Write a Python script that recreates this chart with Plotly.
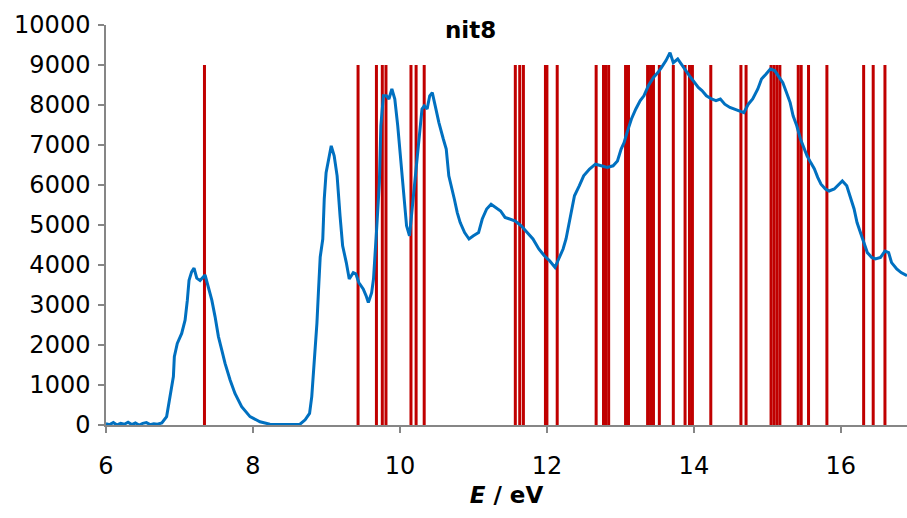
import plotly.graph_objects as go

# Measured spectrum (energy in eV, intensity in counts)
energy = [
    6.00, 6.05, 6.10, 6.15, 6.20, 6.25, 6.30, 6.35, 6.40, 6.45, 6.50, 6.55, 6.60, 6.65, 6.70, 6.76,
    6.825, 6.87, 6.917, 6.93, 6.97, 7.03, 7.076, 7.107, 7.13, 7.165, 7.198, 7.235, 7.28, 7.348,
    7.39, 7.44, 7.484, 7.53, 7.575, 7.62, 7.69, 7.755, 7.846, 7.96, 8.095, 8.23, 8.35, 8.45,
    8.55, 8.64, 8.71, 8.77, 8.80, 8.82, 8.845, 8.87, 8.89, 8.915, 8.95, 8.97, 8.995, 9.03,
    9.065, 9.105, 9.145, 9.185, 9.22, 9.27, 9.31, 9.365, 9.40, 9.44, 9.50, 9.54, 9.57, 9.615,
    9.64, 9.68, 9.72, 9.74, 9.775, 9.815, 9.85, 9.89, 9.93, 9.97, 10.01, 10.05, 10.09, 10.13,
    10.17, 10.21, 10.25, 10.30, 10.33, 10.37, 10.405, 10.44, 10.48, 10.53, 10.59, 10.63, 10.665,
    10.70, 10.74, 10.78, 10.82, 10.88, 10.94, 11.00, 11.07, 11.12, 11.18, 11.24, 11.30, 11.37,
    11.43, 11.49, 11.57, 11.65, 11.73, 11.81, 11.89, 11.965, 12.04, 12.11, 12.16, 12.22, 12.26,
    12.32, 12.375, 12.44, 12.50, 12.58, 12.66, 12.74, 12.82, 12.90, 12.96, 13.01, 13.05, 13.09,
    13.15, 13.21, 13.27, 13.32, 13.38, 13.45, 13.51, 13.56, 13.62, 13.675, 13.72, 13.78, 13.83,
    13.88, 13.94, 13.99, 14.06, 14.11, 14.17, 14.24, 14.30, 14.36, 14.42, 14.49, 14.55, 14.61,
    14.68, 14.74, 14.80, 14.87, 14.92, 14.98, 15.04, 15.10, 15.16, 15.21, 15.26, 15.31, 15.35,
    15.40, 15.45, 15.50, 15.54, 15.59, 15.64, 15.685, 15.73, 15.79, 15.84, 15.91, 15.97, 16.02,
    16.08, 16.125, 16.18, 16.22, 16.27, 16.31, 16.36, 16.42, 16.47, 16.54, 16.60, 16.65, 16.69,
    16.76, 16.82, 16.90,
]
intensity = [
    30, 10, 60, 0, 40, 20, 70, 10, 50, 0, 40, 60, 10, 30, 20, 50,
    210, 710, 1210, 1710, 2040, 2290, 2620, 3120, 3620, 3830, 3920, 3670, 3610, 3750,
    3460, 3120, 2710, 2210, 1880, 1540, 1120, 790, 460, 210, 80, 20, 10, 10,
    10, 20, 130, 290, 710, 1210, 1880, 2540, 3300, 4200, 4650, 5650, 6310, 6650,
    6980, 6730, 6230, 5230, 4480, 4060, 3650, 3810, 3780, 3560, 3400, 3230, 3060, 3310,
    3650, 4810, 6060, 7480, 8230, 8230, 8150, 8400, 8150, 7480, 6650, 5810, 4980, 4730,
    5480, 6230, 7150, 7900, 7980, 7900, 8230, 8310, 7980, 7560, 7150, 6900, 6230,
    5980, 5650, 5310, 5060, 4810, 4650, 4730, 4810, 5150, 5400, 5520, 5440, 5350,
    5190, 5150, 5100, 4980, 4810, 4650, 4400, 4230, 4100, 3940, 4150, 4400, 4650,
    5230, 5730, 5980, 6230, 6400, 6520, 6480, 6440, 6480, 6600, 6900, 7060, 7310,
    7650, 7900, 8110, 8230, 8480, 8690, 8810, 8940, 9110, 9310, 9060, 9150, 9020,
    8860, 8730, 8610, 8440, 8360, 8230, 8150, 8110, 8150, 8020, 7940, 7900, 7860,
    7810, 8020, 8150, 8400, 8650, 8770, 8900, 8860, 8690, 8560, 8310, 8060, 7730,
    7480, 7150, 6900, 6730, 6560, 6400, 6190, 6020, 5900, 5850, 5900, 6020, 6100,
    5980, 5730, 5400, 5060, 4810, 4560, 4310, 4190, 4150, 4190, 4350, 4310, 4060,
    3900, 3810, 3730,
]

# Calculated transition energies (eV), drawn as sticks up to a fixed height
transitions = [
    7.34, 9.43, 9.68, 9.76, 9.81, 10.15, 10.22, 10.33, 11.57, 11.63, 11.68, 11.98, 12.00,
    12.14, 12.67, 12.77, 12.80, 12.84, 13.07, 13.11, 13.37, 13.41, 13.45, 13.53, 13.72,
    13.88, 13.94, 13.98, 14.23, 14.64, 14.71, 15.05, 15.09, 15.13, 15.17, 15.42, 15.46,
    15.56, 15.81, 16.31, 16.44, 16.60,
]
stick_height = 9000

stick_x, stick_y = [], []
for e in transitions:
    stick_x += [e, e, None]
    stick_y += [0, stick_height, None]

fig = go.Figure()
fig.add_trace(go.Scatter(
    x=stick_x, y=stick_y, mode="lines",
    line=dict(color="#C00000", width=3),
    hoverinfo="skip", showlegend=False,
))
fig.add_trace(go.Scatter(
    x=energy, y=intensity, mode="lines",
    line=dict(color="#0070C0", width=3),
    showlegend=False,
))

font_family = "DejaVu Sans"
axis_color = "#868686"

fig.update_layout(
    width=907, height=518,
    margin=dict(l=106, r=0, t=25, b=93),
    paper_bgcolor="white", plot_bgcolor="white",
    font=dict(family=font_family, size=24, color="black"),
    xaxis=dict(
        range=[6, 16.9], tick0=6, dtick=2, showgrid=False, zeroline=False,
        showline=True, linecolor=axis_color, linewidth=1.5,
        ticks="outside", ticklen=6, tickcolor=axis_color, tickwidth=1.5,
        ticklabelstandoff=12, tickformat="d",
        title=dict(text="<b><i>E</i> / eV</b>", font=dict(size=23), standoff=8),
    ),
    yaxis=dict(
        range=[0, 10000], dtick=1000, showgrid=False, zeroline=False,
        showline=True, linecolor=axis_color, linewidth=1.5,
        ticks="outside", ticklen=6, tickcolor=axis_color, tickwidth=1.5,
        ticklabelstandoff=3, tickformat="d",
    ),
    annotations=[dict(
        text="<b>nit8</b>", xref="paper", yref="paper",
        x=(470 - 106) / (907 - 106), y=1 - (30 - 25) / 400,
        xanchor="center", yanchor="middle",
        showarrow=False, font=dict(size=23),
    )],
)

fig.write_html("out.html")
